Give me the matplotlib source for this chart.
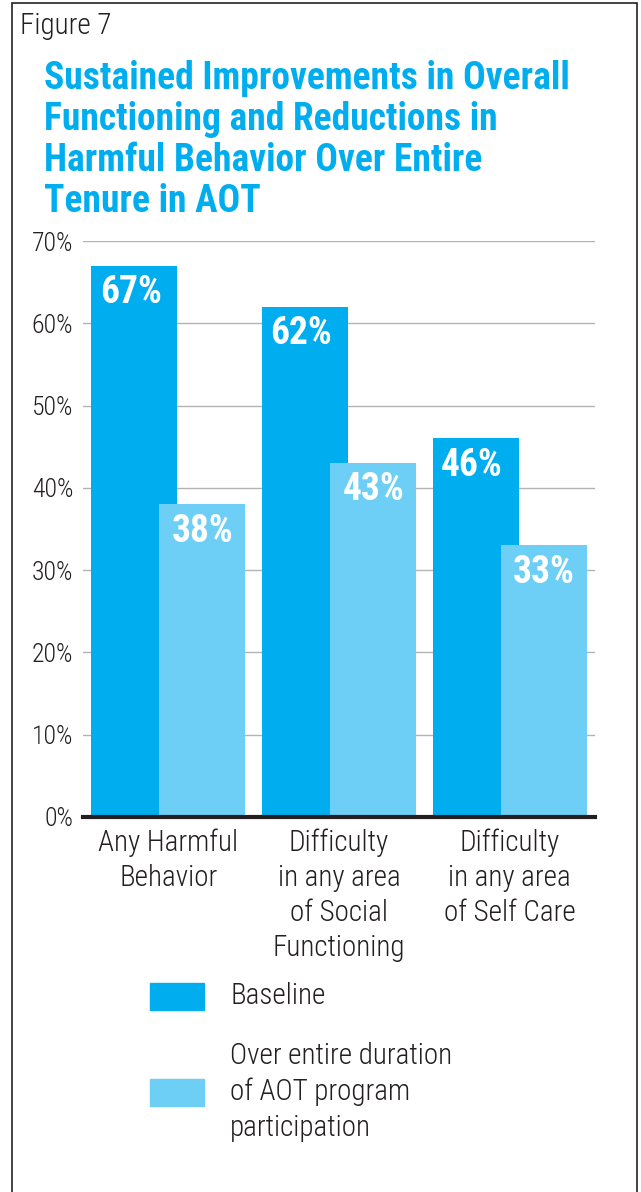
import matplotlib
matplotlib.use("Agg")
import matplotlib.pyplot as plt
from matplotlib import font_manager
from matplotlib.patches import Rectangle

categories = ["Any Harmful\nBehavior", "Difficulty\nin any area\nof Social\nFunctioning", "Difficulty\nin any area\nof Self Care"]
baseline = [67, 62, 46]
overall = [38, 43, 33]
series_names = ["Baseline", "Over entire duration\nof AOT program\nparticipation"]
yticks = [0, 10, 20, 30, 40, 50, 60, 70]
title = "Sustained Improvements in Overall\nFunctioning and Reductions in\nHarmful Behavior Over Entire\nTenure in AOT"
fig_label = "Figure 7"

names = {f.name for f in font_manager.fontManager.ttflist}
FONT = "DejaVu Sans"
for cand in ["Roboto Condensed", "Liberation Sans Narrow", "Open Sans Condensed", "Arial Narrow"]:
    if cand in names:
        FONT = cand
        break
plt.rcParams["font.family"] = [FONT, "DejaVu Sans"]
LIGHTW = "light"

DARK = "#00AEEF"
LIGHT = "#6DCFF6"
TXT = "#231F20"

W, H = 641, 1192
fig = plt.figure(figsize=(W / 100, H / 100), dpi=100)

def fx(px):
    return px / W

def fy(py):
    return 1 - py / H

# outer frame
fig.add_artist(Rectangle((fx(12), fy(1250)), fx(637) - fx(12), fy(3) - fy(1250),
                         transform=fig.transFigure, fill=False, edgecolor="#222222", lw=1.2))

fig.text(fx(20), fy(26), fig_label, fontsize=21, color=TXT, va="center", ha="left",
         fontweight=LIGHTW)
fig.text(fx(44), fy(60), title, fontsize=27, fontweight="bold", color=DARK,
         va="top", ha="left", linespacing=1.14)

ax = fig.add_axes([fx(83), fy(817), fx(595) - fx(83), fy(241) - fy(817)])
ax.set_xlim(-0.5, 2.5)
ax.set_ylim(0, 70)

x = list(range(len(categories)))
bw = 0.504
off = 0.2
ax.bar([i - off for i in x], baseline, width=bw, color=DARK, zorder=2)
ax.bar([i + off for i in x], overall, width=bw, color=LIGHT, zorder=3)

for i, v in enumerate(baseline):
    ax.text(i - off - 0.02, v - 1.0, f"{v}%", ha="center", va="top", color="white",
            fontsize=27, fontweight="bold", zorder=4)
for i, v in enumerate(overall):
    ax.text(i + off, v - 1.0, f"{v}%", ha="center", va="top", color="white",
            fontsize=27, fontweight="bold", zorder=4)

ax.set_yticks(yticks)
ax.set_yticklabels([f"{t}%" for t in yticks], fontsize=18.5, color=TXT, fontweight=LIGHTW)
ax.tick_params(axis="y", length=0, pad=7)
ax.set_xticks(x)
ax.set_xticklabels(categories, fontsize=21, color=TXT, linespacing=1.33, va="top",
                   fontweight=LIGHTW)
ax.tick_params(axis="x", length=0, pad=8)
ax.grid(axis="y", color="#B3B3B3", lw=1.0, zorder=0)
for s in ["top", "right", "left"]:
    ax.spines[s].set_visible(False)
ax.spines["bottom"].set_color("#231F20")
ax.spines["bottom"].set_linewidth(3)
ax.spines["bottom"].set_zorder(5)

# legend
fig.add_artist(Rectangle((fx(150), fy(1010)), fx(204) - fx(150), fy(983) - fy(1010),
                         transform=fig.transFigure, color=DARK))
fig.add_artist(Rectangle((fx(150), fy(1106)), fx(204) - fx(150), fy(1079) - fy(1106),
                         transform=fig.transFigure, color=LIGHT))
fig.text(fx(230), fy(996), series_names[0], fontsize=21, color=TXT, va="center", ha="left",
         fontweight=LIGHTW)
fig.text(fx(230), fy(1092), series_names[1], fontsize=21, color=TXT, va="center", ha="left",
         linespacing=1.33, fontweight=LIGHTW)

fig.savefig("out.png", dpi=100)
